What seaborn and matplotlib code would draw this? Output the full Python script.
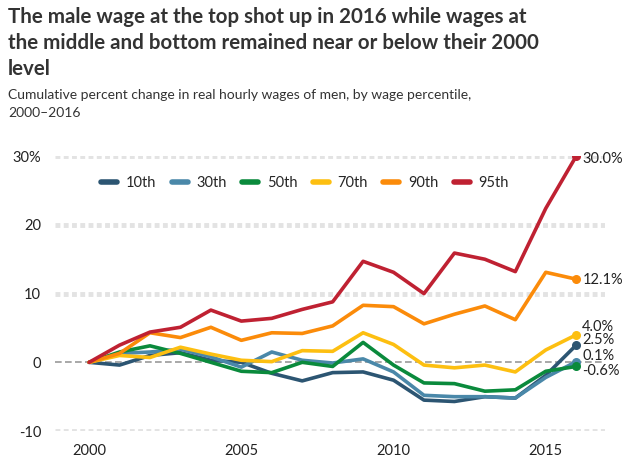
import pandas as pd
import numpy as np
import matplotlib.pyplot as plt
import seaborn as sns

# values (cumulative % change since 2000)
years = list(range(2000, 2017))
p10 = [0, -0.4, 1.0, 1.4, 0.3, 0.0, -1.6, -2.7, -1.5, -1.4, -2.6, -5.5, -5.7, -5.0, -5.2, -1.9, 2.5]
p30 = [0, 1.3, 1.5, 1.9, 0.8, -0.7, 1.5, 0.3, -0.1, 0.5, -1.4, -4.8, -5.0, -5.0, -5.2, -2.2, 0.1]
p50 = [0, 1.5, 2.4, 1.3, 0.0, -1.3, -1.5, 0.0, -0.6, 2.9, -0.4, -3.0, -3.1, -4.2, -4.0, -1.3, -0.6]
p70 = [0, 1.0, 0.7, 2.2, 1.2, 0.3, 0.1, 1.7, 1.6, 4.3, 2.6, -0.4, -0.8, -0.4, -1.4, 1.8, 4.0]
p90 = [0, 1.3, 4.3, 3.6, 5.1, 3.2, 4.3, 4.2, 5.3, 8.3, 8.1, 5.6, 7.0, 8.2, 6.2, 13.1, 12.1]
p95 = [0, 2.5, 4.4, 5.1, 7.6, 6.0, 6.4, 7.7, 8.8, 14.7, 13.1, 10.0, 15.9, 15.0, 13.2, 22.4, 30.0]

percentiles = ['10th', '30th', '50th', '70th', '90th', '95th']
series = [p10, p30, p50, p70, p90, p95]
colors = ['#2c5572', '#4a88a9', '#0a8a3c', '#fdbf11', '#fb8b0a', '#bf2132']
end_labels = ['2.5%', '0.1%', '-0.6%', '4.0%', '12.1%', '30.0%']
label_y = [3.2, 0.9, -1.3, 5.2, 12.0, 29.6]   # nudged so labels don't collide

title_lines = ['The male wage at the top shot up in 2016 while wages at',
               'the middle and bottom remained near or below their 2000',
               'level']
subtitle_lines = ['Cumulative percent change in real hourly wages of men, by wage percentile,',
                  '2000–2016']

df = pd.DataFrame({
    'year': years * len(percentiles),
    'change': sum(series, []),
    'pct': np.repeat(percentiles, len(years)),
})

sns.set_style('white')
plt.rcParams['font.family'] = ['Lato', 'DejaVu Sans']

fig = plt.figure(figsize=(6.28, 4.62), dpi=100)
ax = fig.add_axes([0.0876, 0.067, 0.875, 0.595])

# dotted grid
for yv in [-10, 10, 20, 30]:
    ax.axhline(yv, color='#e3e3e3', lw=3.5, ls=(0, (1, 0.7)), zorder=0)
ax.axhline(0, color='#999999', lw=1.2, ls=(0, (4, 2)), zorder=1)

sns.lineplot(data=df, x='year', y='change', hue='pct', palette=colors,
             lw=2.6, ax=ax, legend=True, zorder=3)

for s, c, lab, ly in zip(series, colors, end_labels, label_y):
    ax.scatter([years[-1]], [s[-1]], color=c, s=30, zorder=4)
    ax.text(years[-1] + 0.2, ly, lab, fontsize=10.5, color='#222222',
            va='center', ha='left')

ax.set_xlim(1998.88, 2016.93)
ax.set_ylim(-10, 30)
ax.set_yticks([-10, 0, 10, 20, 30])
ax.set_yticklabels(['-10', '0', '10', '20', '30%'])
ax.set_xticks([2000, 2005, 2010, 2015])
ax.tick_params(axis='y', length=0, pad=10, labelsize=10.5, labelcolor='#222222')
ax.tick_params(axis='x', length=5, width=1, color='#aaaaaa', pad=4,
               labelsize=10.5, labelcolor='#222222', direction='out')
ax.set_xlabel('')
ax.set_ylabel('')
for sp in ax.spines.values():
    sp.set_visible(False)

leg = ax.legend(loc='upper left', bbox_to_anchor=(0.06, 0.975), ncol=6,
                frameon=False, fontsize=10.5, handlelength=1.1,
                columnspacing=1.05, handletextpad=0.6, title=None)
for h in leg.get_lines():
    h.set_linewidth(4)

# title / subtitle, one line at a time to match the line spacing
for line, yb in zip(title_lines, [0.950, 0.894, 0.838]):
    fig.text(0.013, yb, line, fontsize=14.8, fontweight='bold',
             color='#333333', va='baseline', ha='left')
for line, yb in zip(subtitle_lines, [0.785, 0.747]):
    fig.text(0.013, yb, line, fontsize=10, color='#333333',
             va='baseline', ha='left')

fig.savefig('out.png', dpi=100)
